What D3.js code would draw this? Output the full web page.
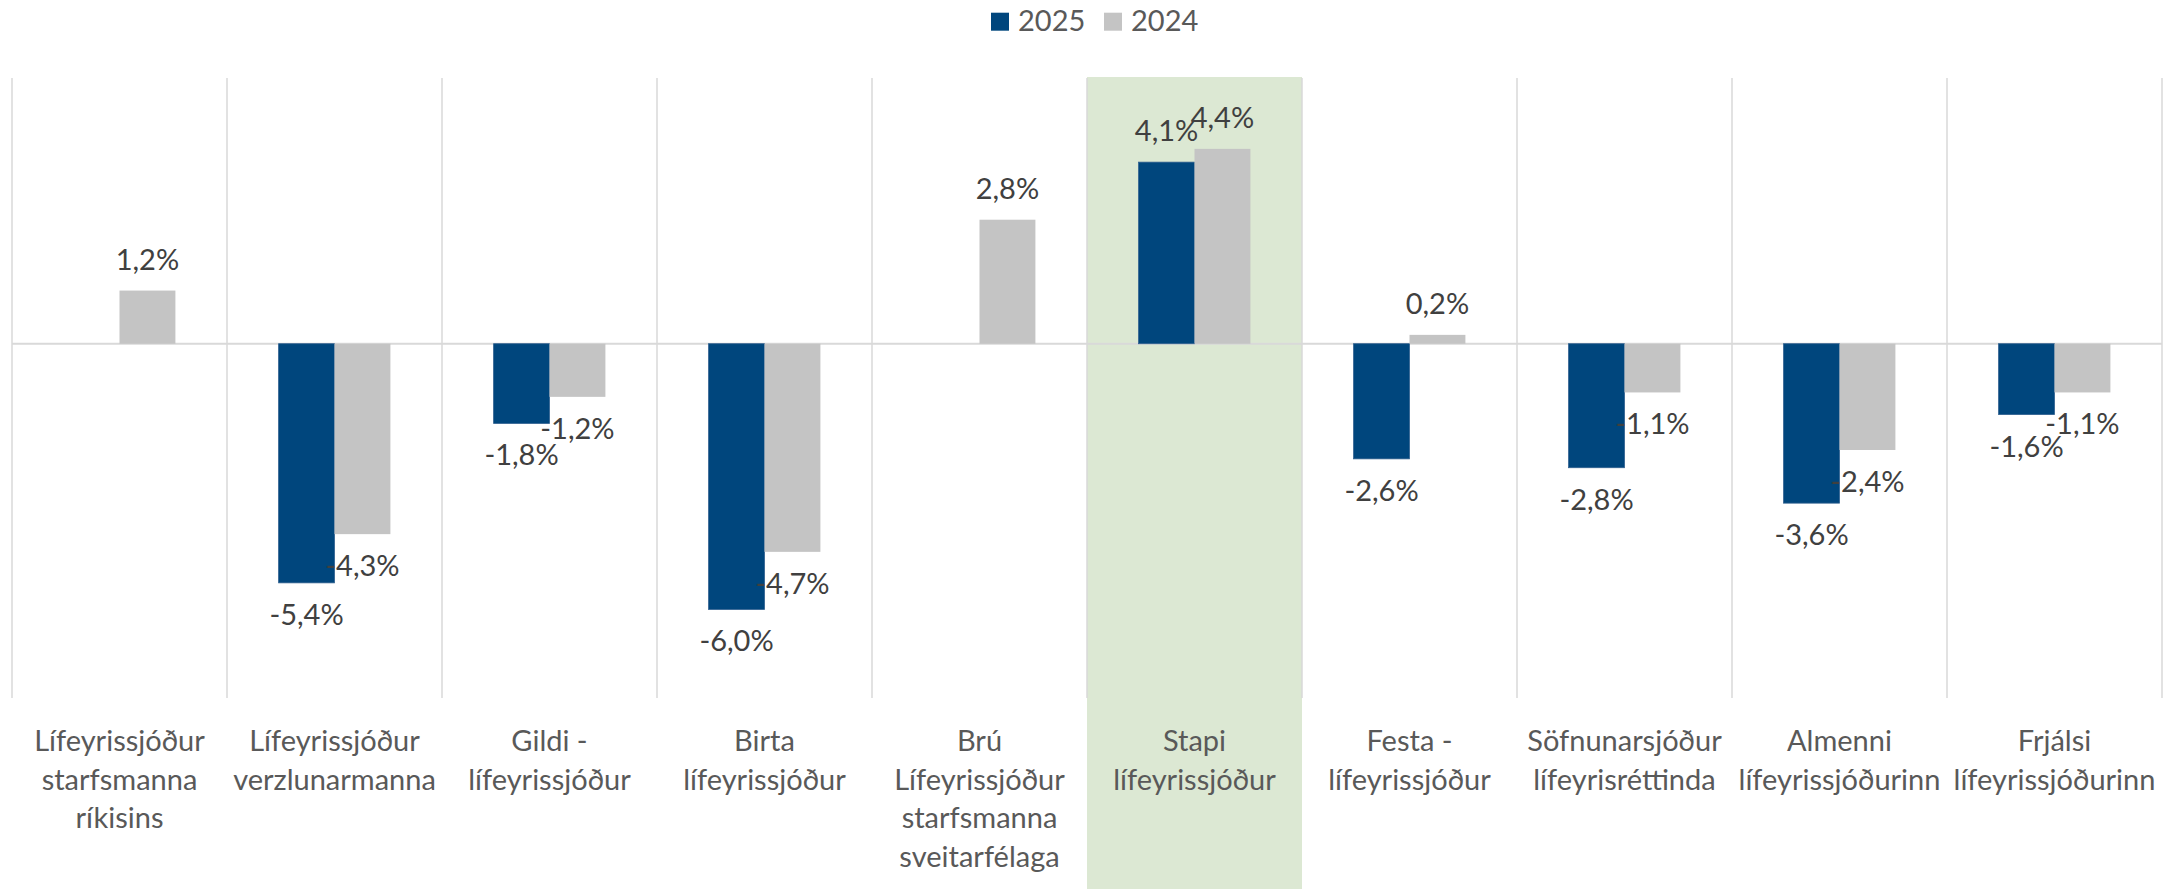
<!DOCTYPE html>
<html>
<head>
<meta charset="utf-8">
<script src="https://cdn.jsdelivr.net/npm/d3@7"></script>
<style>
  html, body { margin: 0; padding: 0; background: #ffffff; }
  svg { display: block; }
  text { font-family: "Lato", "Open Sans", sans-serif; }
</style>
</head>
<body>
<svg id="chart" width="2175" height="889"></svg>
<script>
// ---- data ----
const categories = [
  "Lífeyrissjóður starfsmanna ríkisins",
  "Lífeyrissjóður verzlunarmanna",
  "Gildi - lífeyrissjóður",
  "Birta lífeyrissjóður",
  "Brú Lífeyrissjóður starfsmanna sveitarfélaga",
  "Stapi lífeyrissjóður",
  "Festa - lífeyrissjóður",
  "Söfnunarsjóður lífeyrisréttinda",
  "Almenni lífeyrissjóðurinn",
  "Frjálsi lífeyrissjóðurinn"
];
const categoryLines = [
  ["Lífeyrissjóður", "starfsmanna", "ríkisins"],
  ["Lífeyrissjóður", "verzlunarmanna"],
  ["Gildi -", "lífeyrissjóður"],
  ["Birta", "lífeyrissjóður"],
  ["Brú", "Lífeyrissjóður", "starfsmanna", "sveitarfélaga"],
  ["Stapi", "lífeyrissjóður"],
  ["Festa -", "lífeyrissjóður"],
  ["Söfnunarsjóður", "lífeyrisréttinda"],
  ["Almenni", "lífeyrissjóðurinn"],
  ["Frjálsi", "lífeyrissjóðurinn"]
];
const seriesNames = ["2025", "2024"];
const values2025 = [null, -5.4, -1.8, -6.0, null, 4.1, -2.6, -2.8, -3.6, -1.6];
const values2024 = [1.2, -4.3, -1.2, -4.7, 2.8, 4.4, 0.2, -1.1, -2.4, -1.1];
const highlighted = ["Stapi lífeyrissjóður"];
const yDomain = [-8, 6];

// ---- layout ----
const W = 2175, H = 889;
const plot = { left: 12, right: 2162, top: 78, bottom: 698 };
const colors = { "2025": "#00467D", "2024": "#C4C4C4" };
const gridColor = "#D9D9D9";

const svg = d3.select("#chart");

const x0 = d3.scaleBand().domain(categories).range([plot.left, plot.right]).paddingInner(0).paddingOuter(0);
const groupW = x0.bandwidth() * 0.52;
const x1 = d3.scaleBand().domain(seriesNames).range([0, groupW]).padding(0);
const y = d3.scaleLinear().domain(yDomain).range([plot.bottom, plot.top]);

const locale = d3.formatLocale({ decimal: ",", thousands: ".", grouping: [3], currency: ["", " kr"], minus: "-" });
const fmt = v => locale.format(".1f")(v) + "%";

// highlight band
svg.append("g").selectAll("rect").data(highlighted).join("rect")
  .attr("x", d => x0(d))
  .attr("y", y(yDomain[1]) - 1)
  .attr("width", x0.bandwidth())
  .attr("height", H - y(yDomain[1]) + 1)
  .attr("fill", "#DCE8D3");

// vertical gridlines at category boundaries
const boundaries = categories.map(c => x0(c)).concat([x0(categories[categories.length - 1]) + x0.bandwidth()]);
svg.append("g").selectAll("line").data(boundaries).join("line")
  .attr("x1", d => d).attr("x2", d => d)
  .attr("y1", y(yDomain[1])).attr("y2", y(yDomain[0]))
  .attr("stroke", gridColor).attr("stroke-width", 1.5);

// zero axis line
svg.append("line")
  .attr("x1", plot.left).attr("x2", plot.right)
  .attr("y1", y(0)).attr("y2", y(0))
  .attr("stroke", gridColor).attr("stroke-width", 2);

// bars
const rows = categories.map((c, i) => ({ cat: c, vals: [
  { s: "2025", v: values2025[i] },
  { s: "2024", v: values2024[i] }
]}));

const groups = svg.append("g").selectAll("g").data(rows).join("g")
  .attr("transform", d => `translate(${x0(d.cat) + x0.bandwidth() / 2 - groupW / 2},0)`);

groups.selectAll("rect").data(d => d.vals.filter(e => e.v !== null)).join("rect")
  .attr("x", d => x1(d.s))
  .attr("width", x1.bandwidth())
  .attr("y", d => Math.min(y(d.v), y(0)))
  .attr("height", d => Math.abs(y(d.v) - y(0)))
  .attr("fill", d => colors[d.s])
  .attr("stroke", d => d.s === "2025" ? "#2F5F8F" : "none")
  .attr("stroke-width", 0.8);

// data labels (on top of all bars)
const labelG = svg.append("g").selectAll("g").data(rows).join("g")
  .attr("transform", d => `translate(${x0(d.cat) + x0.bandwidth() / 2 - groupW / 2},0)`);
labelG.selectAll("text").data(d => d.vals.filter(e => e.v !== null)).join("text")
  .attr("x", d => x1(d.s) + x1.bandwidth() / 2)
  .attr("y", d => d.v >= 0 ? y(d.v) - 21 : y(d.v) + 42)
  .attr("text-anchor", "middle")
  .attr("font-size", 29)
  .attr("fill", "#404040")
  .text(d => fmt(d.v));

// category labels
const catG = svg.append("g").selectAll("text").data(categories).join("text")
  .attr("text-anchor", "middle")
  .attr("font-size", 29)
  .attr("fill", "#595959");
catG.each(function (d, i) {
  const t = d3.select(this);
  categoryLines[i].forEach((line, k) => {
    t.append("tspan")
      .attr("x", x0(d) + x0.bandwidth() / 2)
      .attr("y", 751 + k * 38.6)
      .text(line);
  });
});

// legend
const legend = svg.append("g");
const legendX = [991, 1104];
seriesNames.forEach((s, i) => {
  legend.append("rect")
    .attr("x", legendX[i]).attr("y", 12.7)
    .attr("width", 18).attr("height", 18)
    .attr("fill", colors[s]);
  legend.append("text")
    .attr("x", legendX[i] + 27).attr("y", 31)
    .attr("font-size", 29)
    .attr("fill", "#595959")
    .text(s);
});
</script>
</body>
</html>
